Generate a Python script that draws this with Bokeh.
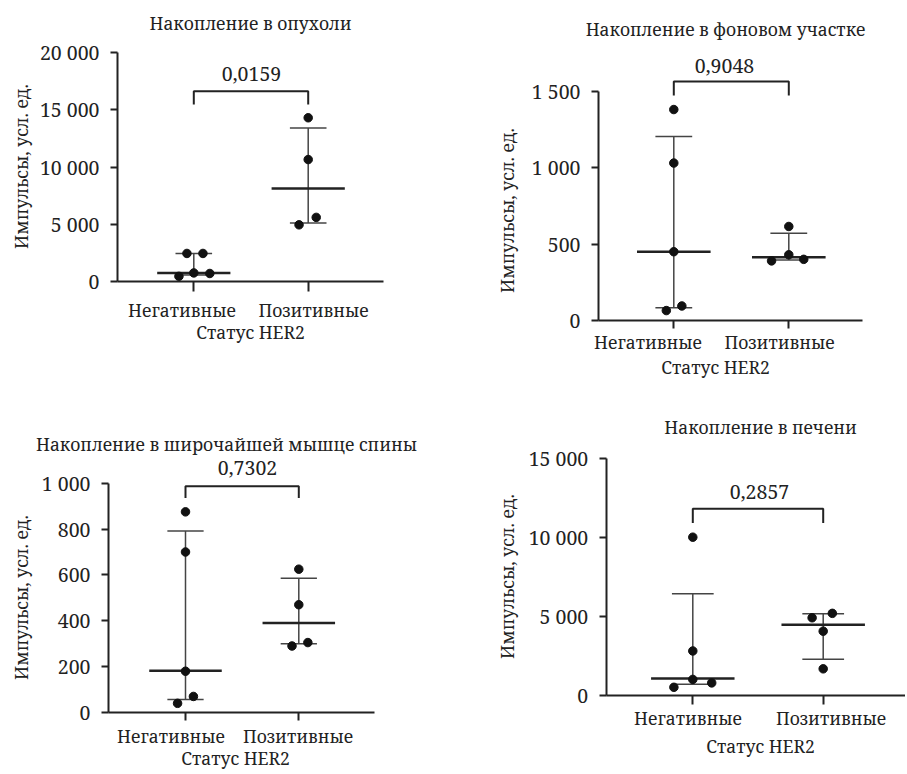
import math
from bokeh.plotting import figure
from bokeh.layouts import column, row
from bokeh.models import FixedTicker, Label, LinearAxis
from bokeh.embed import file_html
from bokeh.resources import INLINE

# ---------------- data ----------------
categories = ["Негативные", "Позитивные"]
x_title = "Статус HER2"
y_title = "Импульсы, усл. ед."

# Panel 1: tumour
p1_title = "Накопление в опухоли"
p1_neg = [2450, 2450, 750, 450, 700]
p1_pos = [14300, 10650, 5600, 4950]
p1_neg_stats = [575, 750, 2450]        # lower, median, upper
p1_pos_stats = [5120, 8125, 13400]
p1_pvalue = "0,0159"
p1_bracket = [15460, 16620]            # leg end, bar level
p1_yticks = [0, 5000, 10000, 15000, 20000]
p1_yticklabels = ["0", "5 000", "10 000", "15 000", "20 000"]

# Panel 2: background area
p2_title = "Накопление в фоновом участке"
p2_neg = [1380, 1030, 450, 95, 65]
p2_pos = [615, 430, 390, 400]
p2_neg_stats = [84, 450, 1204]
p2_pos_stats = [395, 413, 570]
p2_pvalue = "0,9048"
p2_bracket = [1472, 1563]
p2_yticks = [0, 500, 1000, 1500]
p2_yticklabels = ["0", "500", "1 000", "1 500"]

# Panel 3: latissimus dorsi
p3_title = "Накопление в широчайшей мышце спины"
p3_neg = [875, 700, 180, 70, 40]
p3_pos = [625, 470, 290, 305]
p3_neg_stats = [57, 182, 791]
p3_pos_stats = [300, 390, 586]
p3_pvalue = "0,7302"
p3_bracket = [935, 987]
p3_yticks = [0, 200, 400, 600, 800, 1000]
p3_yticklabels = ["0", "200", "400", "600", "800", "1 000"]

# Panel 4: liver
p4_title = "Накопление в печени"
p4_neg = [10000, 2800, 1000, 500, 780]
p4_pos = [4900, 5180, 4050, 1670]
p4_neg_stats = [700, 1050, 6420]
p4_pos_stats = [2280, 4460, 5150]
p4_pvalue = "0,2857"
p4_bracket = [10900, 11800]
p4_yticks = [0, 5000, 10000, 15000]
p4_yticklabels = ["0", "5 000", "10 000", "15 000"]

# horizontal scatter of the dots (display jitter, category units)
p1_neg_jit = [-0.06, 0.08, 0.0, -0.13, 0.14]
p1_pos_jit = [0.0, 0.0, 0.07, -0.08]
p2_neg_jit = [0.0, 0.0, 0.0, 0.07, -0.065]
p2_pos_jit = [0.0, 0.0, -0.15, 0.13]
p3_neg_jit = [0.0, 0.0, 0.0, 0.07, -0.07]
p3_pos_jit = [0.0, 0.0, -0.06, 0.08]
p4_neg_jit = [0.0, 0.0, 0.0, -0.145, 0.145]
p4_pos_jit = [-0.085, 0.07, 0.0, 0.0]

# ---------------- style / layout (page pixels) ----------------
FONT = "Noto Serif"
FS_TXT = "17.5px"    # titles, axis titles, category names
FS_NUM = "19.5px"    # tick numbers, p-values
INK = "#222222"
MED_HW = 0.32
CAP_HW = 0.16

layouts = [
    dict(ox=0, oy=0, w=460, h=404, ax=117, ay=281, ty=52.0, c1=193.3, c2=307.7, xend=383,
         tick_out=10, standoff=6, cat_px=(181.5, 313),
         title_xy=(250, 22.5), p_xy=(251, 73.5), ylab_xy=(20, 166), xlab_xy=(250, 331.7)),
    dict(ox=460, oy=0, w=445, h=404, ax=598, ay=320, ty=90.7, c1=673.3, c2=788.3, xend=862,
         tick_out=8, standoff=1, cat_px=(647.5, 779),
         title_xy=(725, 28), p_xy=(724, 65), ylab_xy=(506, 210), xlab_xy=(715, 366.7)),
    dict(ox=0, oy=404, w=460, h=368, ax=108, ay=712, ty=482.7, c1=185.0, c2=298.3, xend=374,
         tick_out=8, standoff=3, cat_px=(170.5, 297.5),
         title_xy=(226, 443), p_xy=(247, 467.5), ylab_xy=(20, 597), xlab_xy=(235, 757)),
    dict(ox=460, oy=404, w=445, h=368, ax=605.7, ay=694.7, ty=457.7, c1=692.3, c2=822.7, xend=905,
         tick_out=9, standoff=2, cat_px=(687.5, 830.5),
         title_xy=(760, 426.7), p_xy=(759, 491.5), ylab_xy=(506, 576), xlab_xy=(760, 745)),
]


def build(cfg, title, neg, pos, neg_j, pos_j, neg_st, pos_st, pval, bracket, yticks, yticklabels):
    ox, oy, w, h = cfg["ox"], cfg["oy"], cfg["w"], cfg["h"]
    ymax = yticks[-1]
    ppu_y = (cfg["ay"] - cfg["ty"]) / ymax
    ppu_x = cfg["c2"] - cfg["c1"]

    def X(px):
        return 1 + (px - cfg["c1"]) / ppu_x

    def Y(py):
        return (cfg["ay"] - py) / ppu_y

    p = figure(width=w, height=h,
               x_range=(X(ox), X(ox + w)), y_range=(Y(oy + h), Y(oy)),
               output_backend="svg", toolbar_location=None, title=None,
               min_border=0, min_border_left=0, min_border_right=0,
               min_border_top=0, min_border_bottom=0)
    p.outline_line_color = None
    p.xgrid.visible = False
    p.ygrid.visible = False
    p.background_fill_color = "white"
    p.border_fill_color = "white"

    for ax in (p.xaxis[0], p.yaxis[0]):
        ax.axis_line_width = 2
        ax.axis_line_color = INK
        ax.major_tick_line_width = 2
        ax.major_tick_line_color = INK
        ax.major_tick_in = 0
        ax.minor_tick_line_color = None
        ax.major_label_text_font = FONT
        ax.major_label_text_font_size = FS_NUM
        ax.major_label_text_color = INK

    # category axis: line + tick marks at the categories
    p.xaxis.fixed_location = 0
    p.xaxis.ticker = FixedTicker(ticks=[1, 2])
    p.xaxis.major_label_overrides = {1: "", 2: ""}
    p.xaxis.bounds = (X(cfg["ax"]), X(cfg["xend"]))
    p.xaxis.major_tick_out = cfg["tick_out"]

    # category names (placed as in the original, slightly off the ticks)
    lpos = [round(X(v), 6) for v in cfg["cat_px"]]
    cat_axis = LinearAxis(fixed_location=0, ticker=FixedTicker(ticks=lpos),
                          major_label_overrides={lpos[0]: categories[0], lpos[1]: categories[1]},
                          axis_line_color=None, major_tick_line_color=None,
                          minor_tick_line_color=None, major_tick_in=0,
                          major_tick_out=cfg["tick_out"], major_label_standoff=cfg["standoff"],
                          major_label_text_font=FONT, major_label_text_font_size=FS_TXT,
                          major_label_text_color=INK)
    p.add_layout(cat_axis, "below")

    p.yaxis.fixed_location = X(cfg["ax"])
    p.yaxis.ticker = FixedTicker(ticks=yticks)
    p.yaxis.major_label_overrides = {t: l for t, l in zip(yticks, yticklabels)}
    p.yaxis.bounds = (0, ymax)
    p.yaxis.major_tick_out = 7
    p.yaxis.major_label_standoff = 11

    # error bars: whiskers + caps + median
    for cx, st in ((1, neg_st), (2, pos_st)):
        lo, med, hi = st
        p.segment(x0=[cx], y0=[lo], x1=[cx], y1=[hi], line_color="#444444", line_width=1.5)
        p.segment(x0=[cx - CAP_HW, cx - CAP_HW], y0=[lo, hi], x1=[cx + CAP_HW, cx + CAP_HW],
                  y1=[lo, hi], line_color="#444444", line_width=1.5)
        p.segment(x0=[cx - MED_HW], y0=[med], x1=[cx + MED_HW], y1=[med],
                  line_color=INK, line_width=2.5)

    # dots
    p.scatter(x=[1 + j for j in neg_j], y=neg, size=8.5, color="#111111")
    p.scatter(x=[2 + j for j in pos_j], y=pos, size=8.5, color="#111111")

    # significance bracket
    leg, lvl = bracket
    p.line(x=[1, 1, 2, 2], y=[leg, lvl, lvl, leg], line_color=INK, line_width=2)

    def lab(text, xy, size, angle=0.0):
        p.add_layout(Label(x=X(xy[0]), y=Y(xy[1]), text=text, text_align="center",
                           text_baseline="middle", angle=angle, text_font=FONT,
                           text_font_size=size, text_color=INK))

    lab(title, cfg["title_xy"], FS_TXT)
    lab(pval, cfg["p_xy"], FS_NUM)
    lab(y_title, cfg["ylab_xy"], FS_TXT, math.pi / 2)
    lab(x_title, cfg["xlab_xy"], FS_TXT)
    return p


f1 = build(layouts[0], p1_title, p1_neg, p1_pos, p1_neg_jit, p1_pos_jit, p1_neg_stats, p1_pos_stats,
           p1_pvalue, p1_bracket, p1_yticks, p1_yticklabels)
f2 = build(layouts[1], p2_title, p2_neg, p2_pos, p2_neg_jit, p2_pos_jit, p2_neg_stats, p2_pos_stats,
           p2_pvalue, p2_bracket, p2_yticks, p2_yticklabels)
f3 = build(layouts[2], p3_title, p3_neg, p3_pos, p3_neg_jit, p3_pos_jit, p3_neg_stats, p3_pos_stats,
           p3_pvalue, p3_bracket, p3_yticks, p3_yticklabels)
f4 = build(layouts[3], p4_title, p4_neg, p4_pos, p4_neg_jit, p4_pos_jit, p4_neg_stats, p4_pos_stats,
           p4_pvalue, p4_bracket, p4_yticks, p4_yticklabels)

layout = column(row(f1, f2), row(f3, f4))
open("out.html", "w").write(file_html(layout, INLINE))
